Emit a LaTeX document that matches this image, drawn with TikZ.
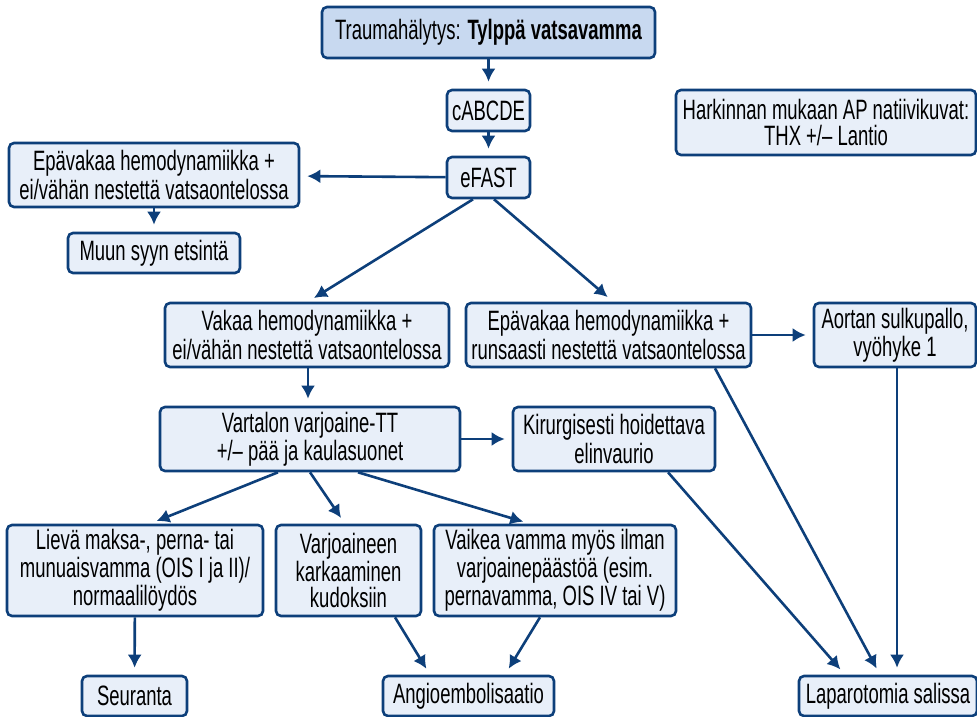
\documentclass[tikz,border=0pt]{standalone}
\usepackage{fontspec}
\setmainfont[FakeStretch=0.66]{Liberation Sans}
\usepackage{tikz}
\usetikzlibrary{arrows.meta,calc}
\definecolor{navy}{RGB}{13,63,122}
\definecolor{boxfill}{RGB}{232,239,249}
\definecolor{topfill}{RGB}{200,217,240}

\begin{document}
\begin{tikzpicture}[x=0.5pt,y=-0.5pt,
	box/.style={draw=navy,fill=boxfill,line width=1.3pt,rounded corners=2.5pt,align=center,inner sep=0pt,
		font=\fontsize{14}{13}\selectfont},
	arr/.style={navy,line width=1.3pt,-{Latex[length=6.5pt,width=7pt]},shorten >=3.5pt}]
	\useasboundingbox (0,0) rectangle (977,716);
	\node[box,fill=topfill,minimum width=333*0.5pt,minimum height=51*0.5pt] (alert) at (488.5,32.5) {Traumahälytys: \textbf{Tylppä vatsavamma}};
	\node[box,minimum width=83*0.5pt,minimum height=41*0.5pt] (abc) at (488.5,110.5) {cABCDE};
	\node[box,minimum width=83*0.5pt,minimum height=41*0.5pt] (efast) at (488.5,177.5) {eFAST};
	\node[box,minimum width=300*0.5pt,minimum height=65*0.5pt] (xray) at (826,122.5) {Harkinnan mukaan AP natiivikuvat:\\THX +/– Lantio};
	\node[box,minimum width=290*0.5pt,minimum height=64*0.5pt] (unstabL) at (154,175) {Epävakaa hemodynamiikka +\\ei/vähän nestettä vatsaontelossa};
	\node[box,minimum width=172*0.5pt,minimum height=40*0.5pt] (other) at (154,253) {Muun syyn etsintä};
	\node[box,minimum width=284*0.5pt,minimum height=64*0.5pt] (stable) at (307,335) {Vakaa hemodynamiikka +\\ei/vähän nestettä vatsaontelossa};
	\node[box,minimum width=285*0.5pt,minimum height=64*0.5pt] (unstabR) at (608.5,335) {Epävakaa hemodynamiikka +\\runsaasti nestettä vatsaontelossa};
	\node[box,minimum width=162*0.5pt,minimum height=64*0.5pt] (reboa) at (895,335) {Aortan sulkupallo,\\vyöhyke 1};
	\node[box,minimum width=300*0.5pt,minimum height=64*0.5pt] (ct) at (310,439) {Vartalon varjoaine-TT\\+/– pää ja kaulasuonet};
	\node[box,minimum width=202*0.5pt,minimum height=64*0.5pt] (surg) at (614,439) {Kirurgisesti hoidettava\\elinvaurio};
	\node[box,minimum width=256*0.5pt,minimum height=91*0.5pt] (mild) at (135,570.5) {Lievä maksa-, perna- tai\\munuaisvamma (OIS I ja II)/\\normaalilöydös};
	\node[box,minimum width=145*0.5pt,minimum height=91*0.5pt] (leak) at (348.5,570.5) {Varjoaineen\\karkaaminen\\kudoksiin};
	\node[box,minimum width=242*0.5pt,minimum height=91*0.5pt] (severe) at (555,570.5) {Vaikea vamma myös ilman\\varjoainepäästöä (esim.\\pernavamma, OIS IV tai V)};
	\node[box,minimum width=105*0.5pt,minimum height=40*0.5pt] (follow) at (134.5,696) {Seuranta};
	\node[box,minimum width=171*0.5pt,minimum height=40*0.5pt] (angio) at (468.5,696) {Angioembolisaatio};
	\node[box,minimum width=178*0.5pt,minimum height=40*0.5pt] (lap) at (888,696) {Laparotomia salissa};

	\draw[arr] (alert) -- (abc);
	\draw[arr] (abc) -- (efast);
	\draw[arr] (efast) -- (unstabL);
	\draw[arr] (unstabL) -- (other);
	\draw[arr] ($(efast.south)+(-15.5,0)$) -- ($(stable.north)+(1,0)$);
	\draw[arr] ($(efast.south)+(5.5,0)$) -- ($(unstabR.north)+(4.5,0)$);
	\draw[arr] (unstabR) -- (reboa);
	\draw[arr] ($(stable.south)+(1,0)$) -- ($(ct.north)+(-2,0)$);
	\draw[arr] (ct) -- (surg);
	\draw[arr] ($(unstabR.south)+(106.5,0)$) -- ($(lap.north)+(-8,0)$);
	\draw[arr] ($(reboa.south)+(2,0)$) -- ($(lap.north)+(9,0)$);
	\draw[arr] ($(surg.south)+(54,0)$) -- ($(lap.north)+(-43,0)$);
	\draw[arr] ($(ct.south)+(-32,0)$) -- ($(mild.north)+(15,0)$);
	\draw[arr] (ct.south) -- ($(leak.north)+(-3.5,0)$);
	\draw[arr] ($(ct.south)+(48,0)$) -- ($(severe.north)+(-25,0)$);
	\draw[arr] (mild) -- (follow);
	\draw[arr] ($(leak.south)+(46.5,0)$) -- ($(angio.north)+(-38.5,0)$);
	\draw[arr] ($(severe.south)+(-15,0)$) -- ($(angio.north)+(36.5,0)$);
\end{tikzpicture}
\end{document}
